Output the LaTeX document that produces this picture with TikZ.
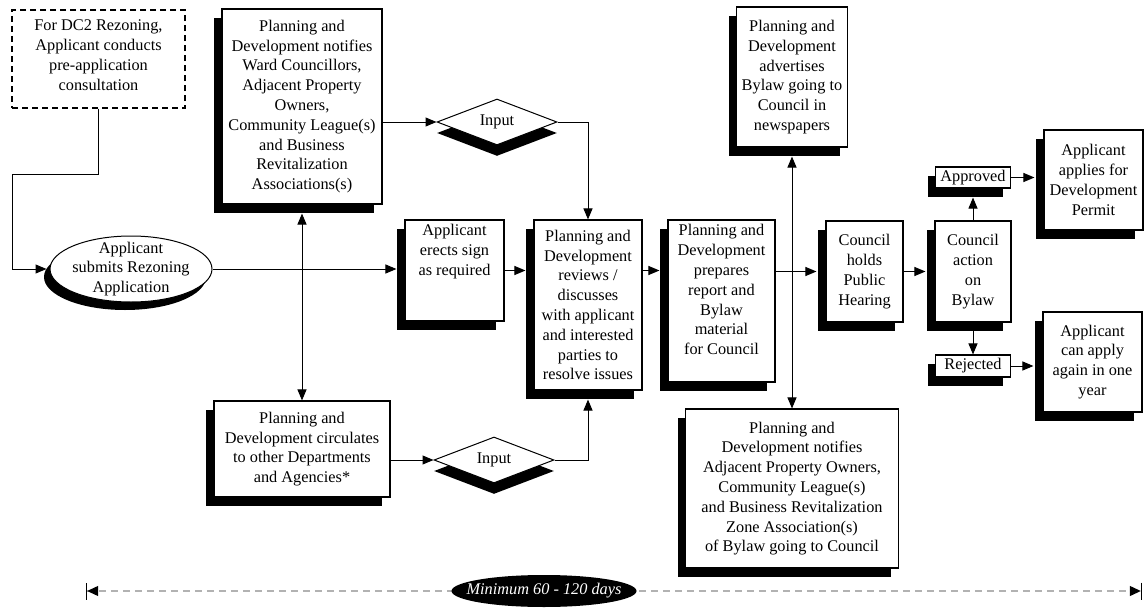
\documentclass[tikz,border=0pt]{standalone}
\usepackage{fontspec}
\setmainfont{Liberation Serif}
\usetikzlibrary{shapes.geometric,arrows.meta,shadows,calc}
\tikzset{
 base/.style={font=\fontsize{16.3pt}{19.8pt}\selectfont, align=center, inner sep=0pt},
 box/.style={base, draw, line width=1.1pt, fill=white, rectangle,
   drop shadow={shadow xshift=-8pt, shadow yshift=-9pt, fill=black, opacity=1}},
 dbox/.style={base, draw, line width=1.1pt, dash pattern=on 6pt off 4pt, fill=white},
 dia/.style={base, draw, diamond, aspect=2.6, line width=1pt, fill=white,
   minimum width=120pt, minimum height=46pt,
   drop shadow={shadow xshift=0pt, shadow yshift=-11pt, fill=black, opacity=1}},
 ell/.style={draw, ellipse, line width=1pt, fill=white, inner sep=0pt,
   drop shadow={shadow xshift=-6pt, shadow yshift=-8pt, fill=black, opacity=1}},
 txt/.style={base},
 arr/.style={line width=1pt, -{Triangle[length=11pt,width=9pt]}},
 arrs/.style={line width=1pt, {Triangle[length=11pt,width=9pt]}-{Triangle[length=11pt,width=9pt]}},
 timeline/.style={line width=1.2pt, gray!60, dash pattern=on 7pt off 5pt,
   {Bar[width=17pt,color=black,line width=1.2pt]Triangle[length=11pt,width=10pt,color=black]}-{Triangle[length=11pt,width=10pt,color=black]Bar[width=17pt,color=black,line width=1.2pt]}},
}
\begin{document}
\begin{tikzpicture}[x=1pt,y=-1pt]
\useasboundingbox (0,0) rectangle (1144,613);

% nodes
\node[dbox, minimum width=173pt, minimum height=98pt] (dc2) at (98.5,59) {};
\node[txt] (dc2T) at (98.5,55) {For DC2 Rezoning,\\Applicant conducts\\pre-application\\consultation};
\node[box, minimum width=160pt, minimum height=195pt] (ward) at (302,106.5)
  {Planning and\\Development notifies\\Ward Councillors,\\Adjacent Property\\Owners,\\Community League(s)\\and Business\\Revitalization\\Associations(s)};
\node[ell, minimum width=162pt, minimum height=66pt] (app) at (131,269) {};
\node[txt] (appT) at (131,269) {Applicant\\submits Rezoning\\Application};
\node[dia] (in1) at (497,122) {Input};
\node[dia] (in2) at (494,460) {Input};
\node[box, minimum width=99pt, minimum height=101pt] (erects) at (454.5,270.5) {};
\node[txt, anchor=north] (erectsT) at ($(erects.north)+(0,5)$) {Applicant\\erects sign\\as required};
\node[box, minimum width=108pt, minimum height=170pt] (review) at (588,305)
  {Planning and\\Development\\reviews /\\discusses\\with applicant\\and interested\\parties to\\resolve issues};
\node[box, minimum width=107pt, minimum height=162pt] (prep) at (721.5,301) {};
\node[txt, anchor=north] (prepT) at ($(prep.north)+(0,5)$)
  {Planning and\\Development\\prepares\\report and\\Bylaw\\material\\for Council};
\node[box, minimum width=111pt, minimum height=140pt] (adv) at (792,77)
  {Planning and\\Development\\advertises\\Bylaw going to\\Council in\\newspapers};
\node[box, minimum width=77pt, minimum height=101pt] (hear) at (864.5,271.5)
  {Council\\holds\\Public\\Hearing};
\node[box, minimum width=76pt, minimum height=101pt] (act) at (973,271.5)
  {Council\\action\\on\\Bylaw};
\node[box, minimum width=75pt, minimum height=21pt] (appr) at (973,177.5) {Approved};
\node[box, minimum width=75pt, minimum height=22pt] (rej) at (973,366) {Rejected};
\node[box, minimum width=99pt, minimum height=100pt] (apply) at (1093.5,180)
  {Applicant\\applies for\\Development\\Permit};
\node[box, minimum width=99pt, minimum height=100pt] (again) at (1092.5,362)
  {Applicant\\can apply\\again in one\\year};
\node[box, minimum width=176pt, minimum height=96pt] (circ) at (302,449)
  {Planning and\\Development circulates\\to other Departments\\and Agencies*};
\node[box, minimum width=213pt, minimum height=159pt] (notif) at (792,488.5)
  {Planning and\\Development notifies\\Adjacent Property Owners,\\Community League(s)\\and Business Revitalization\\Zone Association(s)\\of Bylaw going to Council};

% connectors
\coordinate (k1) at (12,174);
\draw[arr] (dc2.south) |- (k1) |- ($(app.west)+(-3,0)$);
\draw[arr] (app.east) -- ($(app.east -| erects.west)+(-8,0)$);
\draw[arr] (erects.east) -- ($(erects.east -| review.west)+(-8,0)$);
\draw[arr] (erects.east -| review.east) -- ($(erects.east -| prep.west)+(-8,0)$);
\draw[arr] (hear.west -| prep.east) -- ($(hear.west)+(-9,0)$);
\draw[arr] (hear.east) -- ($(act.west)+(-9,0)$);
\draw[arrs] ($(ward.south)+(0,9)$) -- (circ.north);
\draw[arrs] ($(adv.south)+(0,9)$) -- (notif.north);
\draw[arr] (in1.west -| ward.east) -- (in1.west);
\draw[arr] (in1.east) -| (review.north);
\draw[arr] (in2.west -| circ.east) -- (in2.west);
\draw[arr] (in2.east) -| ($(review.south)+(0,9)$);
\draw[arr] (act.north) -- ($(appr.south)+(0,9)$);
\draw[arr] (act.south) -- (rej.north);
\draw[arr] (appr.east) -- ($(appr.east -| apply.west)+(-9,0)$);
\draw[arr] (rej.east) -- ($(rej.east -| again.west)+(-9,0)$);

% timeline
\coordinate (tl) at (86,591);
\coordinate (tr) at (1142,591);
\draw[timeline] (tl) -- (tr);
\node[ellipse, fill=black, minimum width=185pt, minimum height=32pt, inner sep=0pt] (dur) at (544,591) {};
\node[txt, text=white, font=\fontsize{16.3pt}{19.6pt}\selectfont\itshape] (durT) at (544,591) {Minimum 60 - 120 days};
\end{tikzpicture}
\end{document}
